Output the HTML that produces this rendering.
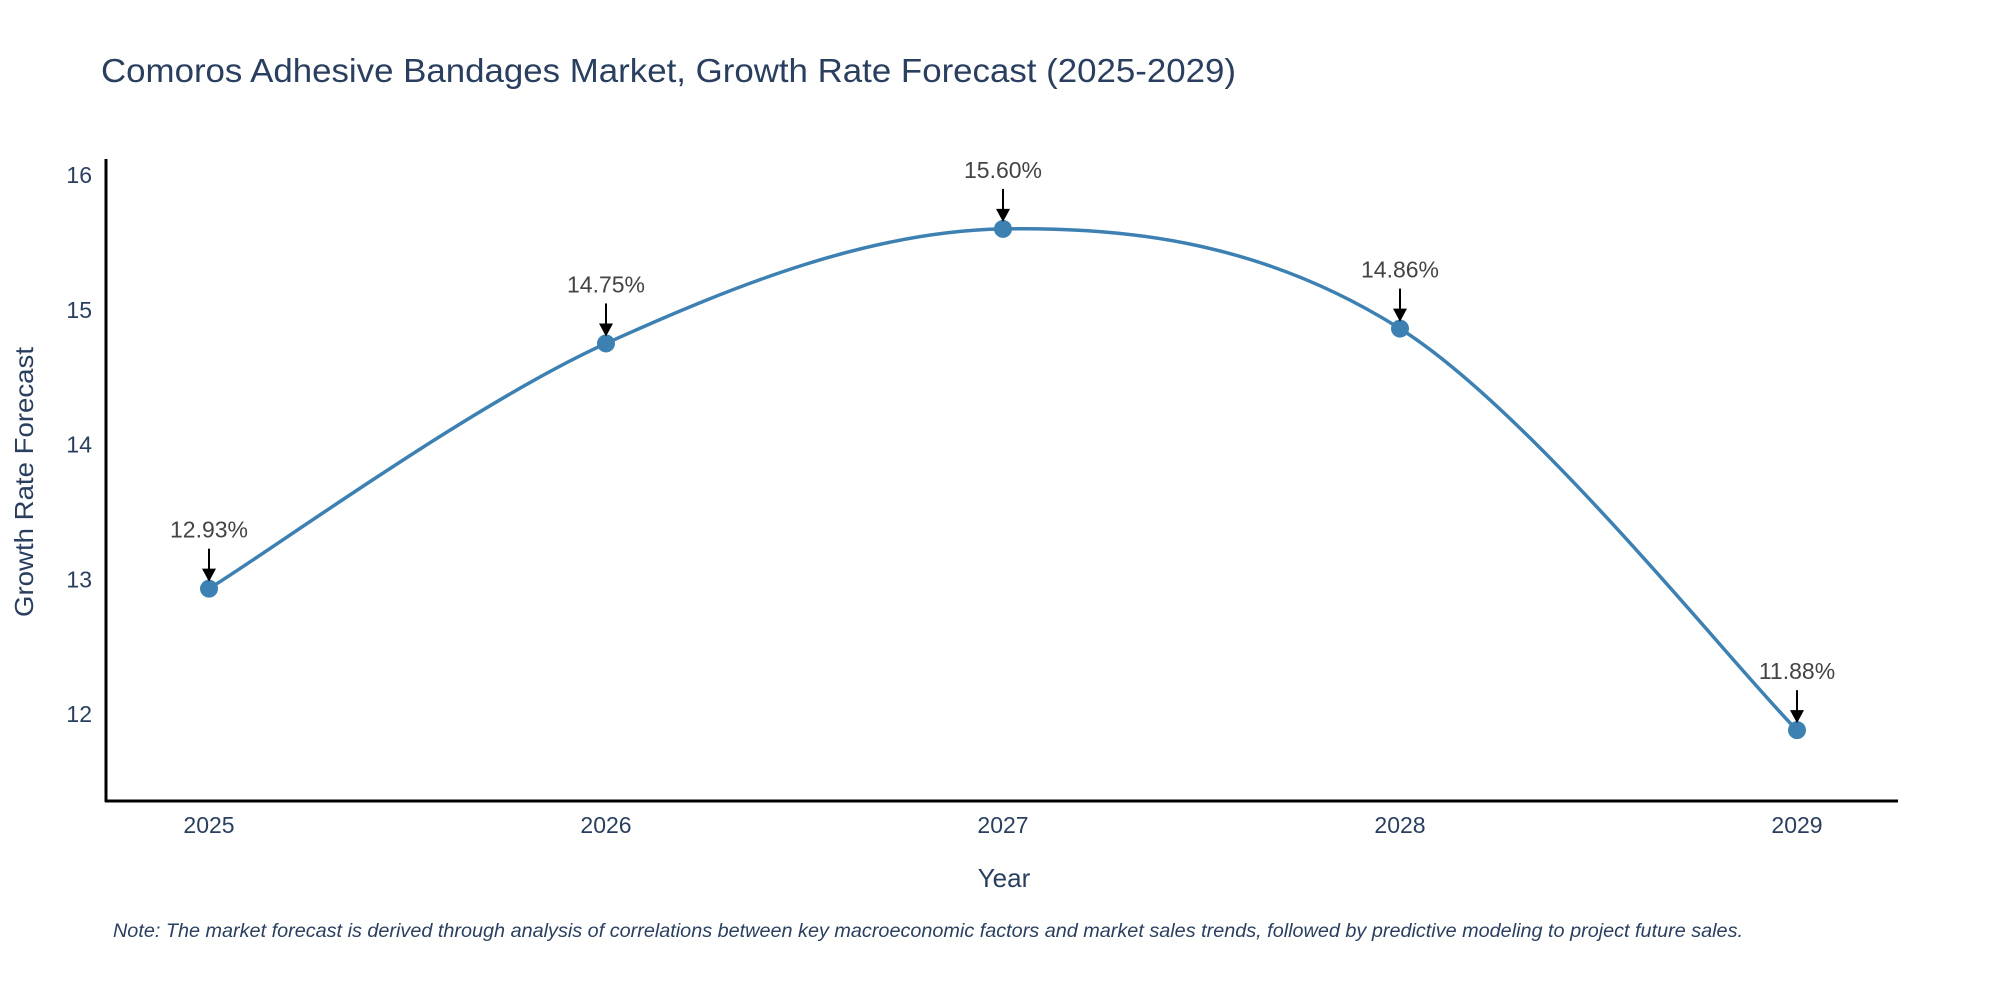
<!DOCTYPE html>
<html><head><meta charset="utf-8"><style>
body{margin:0;background:#fff;}
svg text{font-family:"Liberation Sans",sans-serif;}
</style></head><body>
<svg id="chart" width="2000" height="1000" viewBox="0 0 2000 1000" xmlns="http://www.w3.org/2000/svg">
<text x="101" y="82" font-size="33" fill="#2a3f5f" textLength="1135" lengthAdjust="spacingAndGlyphs">Comoros Adhesive Bandages Market, Growth Rate Forecast (2025-2029)</text>
<g id="axes"></g>
<g id="series"></g>
<g id="annots"></g>
<text transform="translate(33,482) rotate(-90)" text-anchor="middle" font-size="26" fill="#2a3f5f" textLength="270" lengthAdjust="spacingAndGlyphs">Growth Rate Forecast</text>
<text x="1004" y="887" text-anchor="middle" font-size="26" fill="#2a3f5f">Year</text>
<text x="113" y="937" font-size="19" font-style="italic" fill="#2a3f5f" textLength="1630" lengthAdjust="spacingAndGlyphs">Note: The market forecast is derived through analysis of correlations between key macroeconomic factors and market sales trends, followed by predictive modeling to project future sales.</text>
</svg>
<script>
const years = ["2025","2026","2027","2028","2029"];
const values = [12.93, 14.75, 15.60, 14.86, 11.88];
const valueLabels = ["12.93%","14.75%","15.60%","14.86%","11.88%"];
const yTicks = [12, 13, 14, 15, 16];

const NS = "http://www.w3.org/2000/svg";
const x = i => 209 + i * (1797 - 209) / (years.length - 1);
const y = v => 714 - (v - 12) * (714 - 175) / 4;
function mk(tag, attrs, parent){const e=document.createElementNS(NS,tag);for(const k in attrs)e.setAttribute(k,attrs[k]);parent.appendChild(e);return e;}
const axes=document.getElementById('axes'), series=document.getElementById('series'), ann=document.getElementById('annots');

const yl=mk('line',{x1:106,y1:159,x2:106,y2:802,stroke:'#000','stroke-width':3},axes);


const xl=mk('line',{x1:105,y1:801,x2:1898,y2:801,stroke:'#000','stroke-width':3},axes);



yTicks.forEach(t=>{
  const e=mk('text',{x:92,y:y(t)+8,'text-anchor':'end','font-size':23,fill:'#2a3f5f'},axes);
  e.textContent=t;
  
  
});
years.forEach((yr,i)=>{
  const e=mk('text',{x:x(i),y:833,'text-anchor':'middle','font-size':23,fill:'#2a3f5f'},axes);
  e.textContent=yr;
  
  
});

const pts=values.map((v,i)=>[x(i),y(v)]);
let d=`M${pts[0][0]},${pts[0][1]}`;
for(let i=0;i<pts.length-1;i++){
  const p0=pts[Math.max(0,i-1)],p1=pts[i],p2=pts[i+1],p3=pts[Math.min(pts.length-1,i+2)];
  const t=0.5/3*2;
  const c1=[p1[0]+(p2[0]-p0[0])*t/2,p1[1]+(p2[1]-p0[1])*t/2];
  const c2=[p2[0]-(p3[0]-p1[0])*t/2,p2[1]-(p3[1]-p1[1])*t/2];
  d+=` C${c1[0]},${c1[1]} ${c2[0]},${c2[1]} ${p2[0]},${p2[1]}`;
}
const line=mk('path',{d:d,fill:'none',stroke:'#3d80b2','stroke-width':3.5},series);



pts.forEach((p,i)=>{
  const c=mk('circle',{cx:p[0],cy:p[1],r:9,fill:'#3d80b2'},series);
  
  
  const a=mk('line',{x1:p[0],y1:p[1]-40,x2:p[0],y2:p[1]-18,stroke:'#000','stroke-width':2},ann);
  
  
  const h=mk('polygon',{points:`${p[0]-7},${p[1]-20} ${p[0]+7},${p[1]-20} ${p[0]},${p[1]-7}`,fill:'#000'},ann);
  
  
  const tx=mk('text',{x:p[0],y:p[1]-51,'text-anchor':'middle','font-size':23,fill:'#444'},ann);
  tx.textContent=valueLabels[i];
  
  
});
</script>
</body></html>
